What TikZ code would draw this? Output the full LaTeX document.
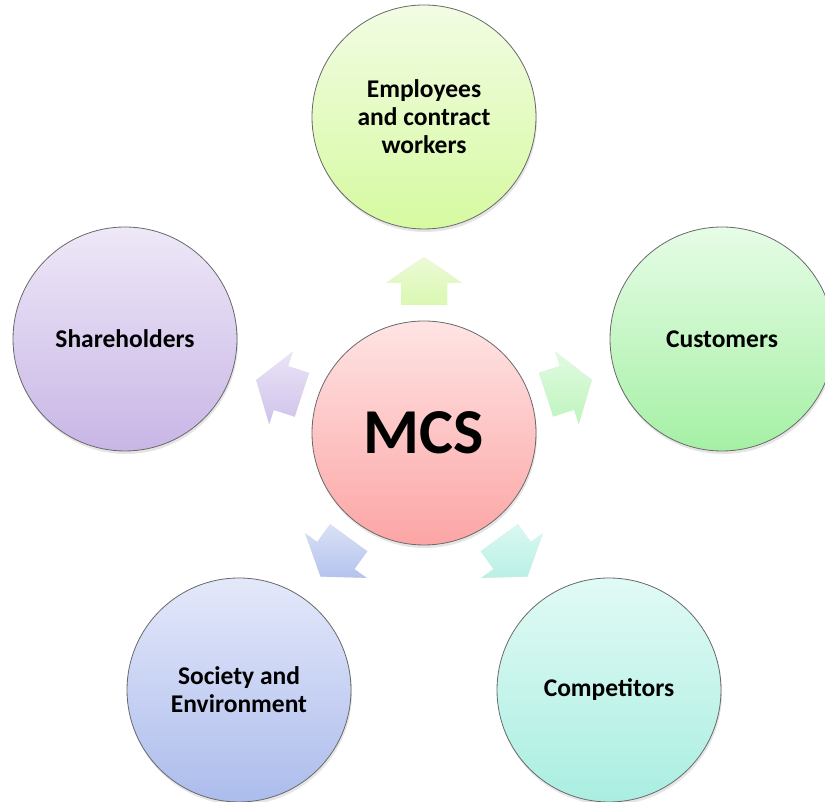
\documentclass[tikz,border=0pt]{standalone}
\usepackage{fontspec}
\setmainfont{Carlito}
\usetikzlibrary{calc,shadows}
\definecolor{empT}{RGB}{242,252,228}\definecolor{empB}{RGB}{214,250,160}
\definecolor{cusT}{RGB}{230,252,230}\definecolor{cusB}{RGB}{165,240,165}
\definecolor{shaT}{RGB}{238,232,248}\definecolor{shaB}{RGB}{200,182,230}
\definecolor{mcsT}{RGB}{255,228,228}\definecolor{mcsB}{RGB}{252,165,165}
\definecolor{socT}{RGB}{228,232,250}\definecolor{socB}{RGB}{172,188,236}
\definecolor{comT}{RGB}{225,250,245}\definecolor{comB}{RGB}{170,238,225}
\definecolor{aempT}{RGB}{236,250,215}\definecolor{aempB}{RGB}{218,248,178}
\definecolor{acusT}{RGB}{225,250,225}\definecolor{acusB}{RGB}{190,245,190}
\definecolor{ashaT}{RGB}{234,228,246}\definecolor{ashaB}{RGB}{208,194,235}
\definecolor{asocT}{RGB}{218,225,246}\definecolor{asocB}{RGB}{180,195,238}
\definecolor{acomT}{RGB}{218,248,240}\definecolor{acomB}{RGB}{185,240,230}
\definecolor{rim}{RGB}{105,105,105}
\newcommand\arrowpath[2]{($(#1)+(#2:24pt)$) -- ($(#1)+(#2:-2pt)+({#2+90}:38pt)$) -- ($(#1)+(#2:-2pt)+({#2+90}:23pt)$) -- ($(#1)+(#2:-24pt)+({#2+90}:23pt)$) -- ($(#1)+(#2:-24pt)+({#2-90}:23pt)$) -- ($(#1)+(#2:-2pt)+({#2-90}:23pt)$) -- ($(#1)+(#2:-2pt)+({#2-90}:38pt)$) -- cycle}
\newcommand\blockarr[4]{%
  \fill[black, opacity=.12, shift={(1pt,-3pt)}] \arrowpath{#1}{#2};
  \shade[top color=#3, bottom color=#4] \arrowpath{#1}{#2};}
\tikzset{
  bubble/.style={circle, minimum size=224pt, inner sep=0pt, draw=rim, line width=0.8pt,
    align=center, font=\fontsize{25.5}{28}\selectfont\bfseries,
    drop shadow={shadow xshift=1pt, shadow yshift=-3pt, opacity=.2}},
}
\begin{document}
\begin{tikzpicture}[x=1pt,y=1pt]
\useasboundingbox (0,0) rectangle (825,802);
\fill[white] (0,0) rectangle (825,802);
\node[bubble, top color=mcsT, bottom color=mcsB, font=\fontsize{64}{70}\selectfont\bfseries] (mcs) at (424,369) {MCS};
\node[bubble, top color=empT, bottom color=empB] (emp) at (424,685) {Employees\\and contract\\workers};
\node[bubble, top color=cusT, bottom color=cusB] (cus) at (722,463) {Customers};
\node[bubble, top color=shaT, bottom color=shaB] (sha) at (125,463) {Shareholders};
\node[bubble, top color=socT, bottom color=socB] (soc) at (239,112) {Society and\\Environment};
\node[bubble, top color=comT, bottom color=comB] (com) at (609,112) {Competitors};
\coordinate (aemp) at ($(mcs.center)!152pt!(emp.center)$);
\coordinate (acus) at ($(mcs.center)!152pt!(cus.center)$);
\coordinate (asha) at ($(mcs.center)!152pt!(sha.center)$);
\coordinate (asoc) at ($(mcs.center)!153pt!(soc.center)$);
\coordinate (acom) at ($(mcs.center)!153pt!(com.center)$);
\blockarr{aemp}{90}{aempT}{aempB}
\blockarr{acus}{18}{acusT}{acusB}
\blockarr{asha}{162}{ashaT}{ashaB}
\blockarr{asoc}{-126}{asocT}{asocB}
\blockarr{acom}{-54}{acomT}{acomB}
\end{tikzpicture}
\end{document}
